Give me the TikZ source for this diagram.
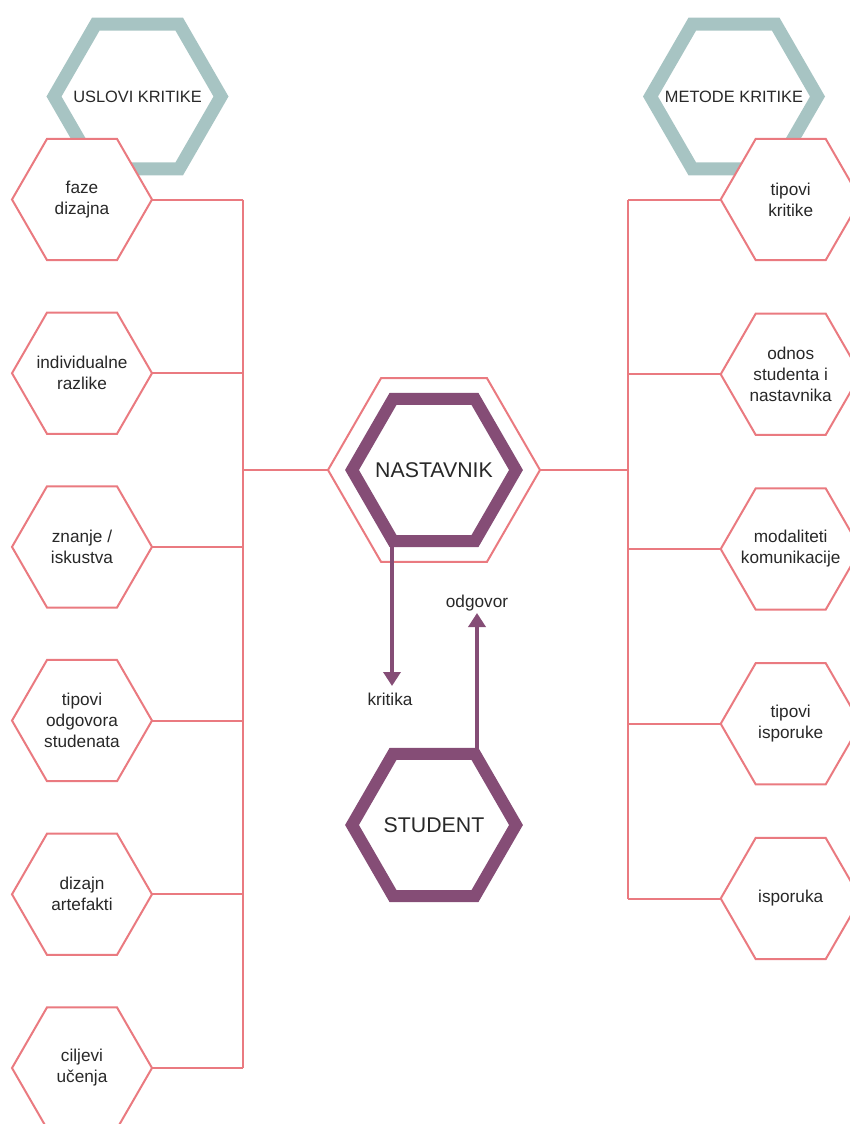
\documentclass[tikz,border=0pt]{standalone}
\usepackage{fontspec}
\setmainfont{Liberation Sans}
\usetikzlibrary{shapes.geometric,arrows.meta}
\definecolor{linepink}{RGB}{234,122,128}
\definecolor{headteal}{RGB}{167,196,195}
\definecolor{mauve}{RGB}{133,77,118}
\definecolor{txtgray}{RGB}{40,40,40}
\tikzset{
  hexbase/.style={regular polygon, regular polygon sides=6, inner sep=0pt, outer sep=0pt},
  hexsmall/.style={hexbase, minimum size=140pt, draw=linepink, line width=2pt, fill=white},
  hexhead/.style={hexbase, minimum size=167pt, draw=headteal, line width=13pt},
  hexmain/.style={hexbase, minimum size=164pt, draw=mauve, line width=12pt},
  hexring/.style={hexbase, minimum size=212pt, draw=linepink, line width=2pt},
  smalltxt/.style={font=\fontsize{17.2}{21}\selectfont, align=center, text=txtgray, inner sep=0pt},
  headtxt/.style={font=\fontsize{16.4}{19}\selectfont, text=txtgray, inner sep=0pt},
  maintxt/.style={font=\fontsize{21.3}{25}\selectfont, text=txtgray, inner sep=0pt},
  conn/.style={draw=linepink, line width=2pt},
  flow/.style={draw=mauve, line width=4pt, -{Triangle[width=17pt,length=14pt]}}
}
\begin{document}
\begin{tikzpicture}[x=1pt,y=-1pt]
\useasboundingbox (0,0) rectangle (849,1124);

% header hexagons
\node[hexhead] (hl) at (137.5,96.5) {};
\node[headtxt] (hlt) at (hl) {USLOVI KRITIKE};
\node[hexhead] (hr) at (734,96.5) {};
\node[headtxt] (hrt) at (hr) {METODE KRITIKE};

% left column
\foreach \i/\t in {1/{faze\\dizajna},2/{individualne\\razlike},3/{znanje /\\iskustva},
                   4/{tipovi\\odgovora\\studenata},5/{dizajn\\artefakti},6/{ciljevi\\učenja}}{
  \node[hexsmall] (L\i) at (82,{199.5+173.7*(\i-1)}) {};
  \node[smalltxt] (Lt\i) at (L\i) {\t};
}
% right column
\foreach \i/\t in {1/{tipovi\\kritike},2/{odnos\\studenta i\\nastavnika},3/{modaliteti\\komunikacije},
                   4/{tipovi\\isporuke},5/{isporuka}}{
  \node[hexsmall] (R\i) at (790.7,{199.5+174.75*(\i-1)}) {};
  \node[smalltxt] (Rt\i) at (R\i) {\t};
}

% central hexagons
\node[hexring, fill=white] (ring) at (434,470) {};
\node[hexmain] (nast) at (434,470) {};
\node[maintxt] (nastt) at (nast) {NASTAVNIK};
\node[hexmain] (stud) at (434,825) {};
\node[maintxt] (studt) at (stud) {STUDENT};

% buses
\coordinate (busL) at (243,470);
\coordinate (busR) at (628,470);
\foreach \i in {1,...,6}{ \draw[conn] (L\i.east) -- (L\i.east -| busL); }
\draw[conn] (L1.east -| busL) -- (L6.east -| busL);
\draw[conn] (busL) -- (ring.west);
\foreach \i in {1,...,5}{ \draw[conn] (R\i.west) -- (R\i.west -| busR); }
\draw[conn] (R1.west -| busR) -- (R5.west -| busR);
\draw[conn] (busR) -- (ring.east);

% feedback arrows
\node[smalltxt] (krit) at (390,699) {kritika};
\node[smalltxt] (odg) at (477,603) {odgovor};
\coordinate (kend) at (392,686);
\coordinate (oend) at (477,613);
\draw[flow] (nast.south -| kend) -- (kend);
\draw[flow] (stud.north -| oend) -- (oend);
\end{tikzpicture}
\end{document}
